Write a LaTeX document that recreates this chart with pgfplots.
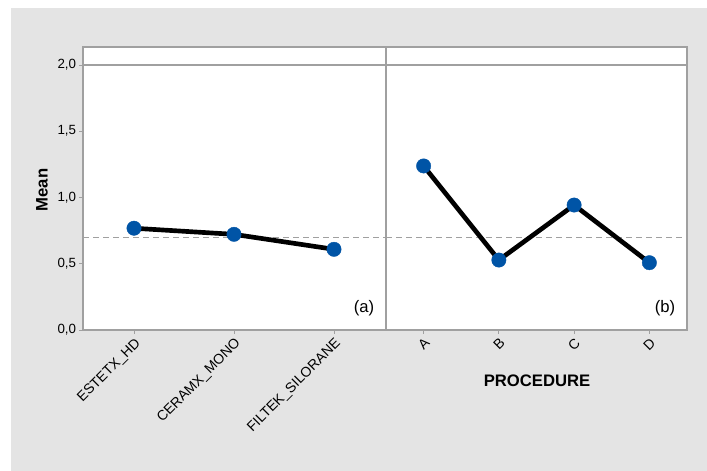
\documentclass[border=0pt]{standalone}
\usepackage{fontspec}
\setmainfont{Liberation Sans}
\usepackage{pgfplots}
\pgfplotsset{compat=1.18}
\definecolor{bg}{HTML}{E4E4E4}
\definecolor{axgray}{HTML}{A0A0A0}
\definecolor{ptblue}{HTML}{0054A6}
\begin{document}
\begin{tikzpicture}
\useasboundingbox (0pt,0pt) rectangle (530.25pt,353.25pt);
\fill[bg] (8.25pt,0pt) rectangle (530.25pt,347.25pt);
\pgfplotsset{
  panel/.style={
    scale only axis, height=212.25pt, ymin=0, ymax=2.136,
    axis line style={axgray, line width=0.8pt},
    tick style={axgray, line width=0.6pt}, major tick length=3pt,
    tick align=outside, xtick pos=bottom, ytick pos=left,
    axis background/.style={fill=white},
    xticklabel style={rotate=45, anchor=north east, font=\fontsize{10.5}{12}\selectfont, inner sep=1.5pt},
    yticklabel style={font=\fontsize{10}{12}\selectfont, inner sep=2pt},
    /pgf/number format/.cd, use comma, fixed, fixed zerofill, precision=1, assume math mode=true,
  },
  meanline/.style={axgray, line width=0.7pt, dash pattern=on 4.5pt off 3pt, forget plot},
  topline/.style={axgray, line width=0.8pt, forget plot},
  dataline/.style={black, line width=3.5pt, mark=*, mark size=5.4pt,
    mark options={solid, fill=ptblue, draw=ptblue, line width=0.3pt}},
}
\begin{axis}[panel, at={(62.25pt,105.75pt)}, anchor=south west, width=227.25pt,
  xmin=-0.51, xmax=2.52, xtick={0,1,2},
  xticklabels={ESTETX\_HD, CERAMX\_MONO, FILTEK\_SILORANE},
  ytick={0,0.5,1,1.5,2}]
\addplot[meanline] coordinates {(-0.51,0.70) (2.52,0.70)};
\addplot[topline] coordinates {(-0.51,2) (2.52,2)};
\addplot[dataline] coordinates {(0,0.768) (1,0.722) (2,0.609)};
\end{axis}
\begin{axis}[panel, at={(289.5pt,105.75pt)}, anchor=south west, width=225.75pt,
  xmin=-0.5, xmax=3.5, xtick={0,1,2,3}, xticklabels={A,B,C,D},
  ytick=\empty]
\addplot[meanline] coordinates {(-0.5,0.70) (3.5,0.70)};
\addplot[topline] coordinates {(-0.5,2) (3.5,2)};
\addplot[dataline] coordinates {(0,1.238) (1,0.528) (2,0.943) (3,0.508)};
\end{axis}
\node[rotate=90, font=\bfseries\fontsize{12.5}{14}\selectfont] at (31.5pt,210.75pt) {Mean};
\node[font=\bfseries\fontsize{12.5}{14}\selectfont] at (402.75pt,67.5pt) {PROCEDURE};
\node[font=\fontsize{12.5}{14}\selectfont] at (273pt,122.25pt) {(a)};
\node[font=\fontsize{12.5}{14}\selectfont] at (498.75pt,122.25pt) {(b)};
\end{tikzpicture}
\end{document}
